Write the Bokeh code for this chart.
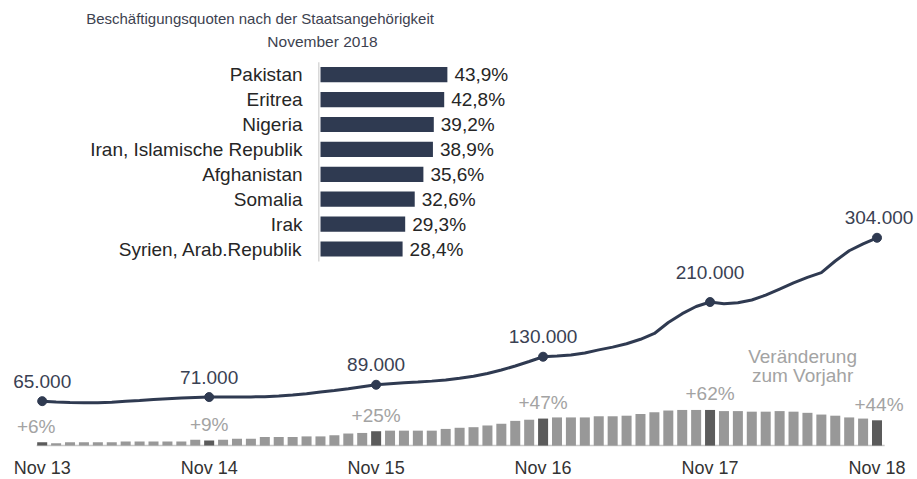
from bokeh.plotting import figure
from bokeh.models import Range1d, ColumnDataSource, Label
from bokeh.core.properties import value
from bokeh.embed import file_html
from bokeh.resources import INLINE

# ---------------- data ----------------
# monthly index: 0 = Nov 2013 ... 60 = Nov 2018
months = list(range(61))
employed = [65000, 63800, 63000, 62800, 62600, 63500, 64800, 66000, 67500, 68500, 69500, 70500, 71000,
            71000, 71000, 71200, 71600, 72500, 74000, 76000, 78500, 80500, 83000, 86000, 89000,
            90500, 91800, 93000, 94300, 96000, 98500, 101500, 105500, 110500, 116500, 123000, 130000,
            131000, 132500, 135500, 140000, 144000, 149000, 155500, 164000, 180000, 193000, 203500, 210000,
            207500, 209000, 213000, 220000, 229000, 238000, 246000, 253000, 270000, 285000, 295000, 304000]
change_pct = [6, 4, 6, 6, 6, 6, 7, 7, 7, 7, 7, 10, 9,
              10, 12, 12, 15, 15, 15, 16, 16, 18, 21, 22, 25,
              26, 26, 26, 26, 29, 31, 32, 35, 38, 43, 45, 47,
              49, 49, 49, 51, 51, 52, 55, 58, 61, 62, 62, 62,
              60, 60, 59, 59, 60, 59, 57, 54, 52, 49, 47, 44]
tick_months = [0, 12, 24, 36, 48, 60]
tick_labels = ["Nov 13", "Nov 14", "Nov 15", "Nov 16", "Nov 17", "Nov 18"]

countries = ["Pakistan", "Eritrea", "Nigeria", "Iran, Islamische Republik",
             "Afghanistan", "Somalia", "Irak", "Syrien, Arab.Republik"]
rates = [43.9, 42.8, 39.2, 38.9, 35.6, 32.6, 29.3, 28.4]

title_text = "Beschäftigungsquoten nach der Staatsangehörigkeit"
subtitle_text = "November 2018"
note_lines = ["Veränderung", "zum Vorjahr"]

# ---------------- style ----------------
FONT = "Liberation Sans"
NAVY = "#2f3a51"
BAR_LIGHT = "#989898"
BAR_DARK = "#5b5b5b"
PCT_TEXT = "#a3a3a3"

p = figure(width=917, height=479, output_backend="svg", toolbar_location=None,
           x_axis_type=None, y_axis_type=None, min_border=0,
           x_range=Range1d(-2.997, 62.91), y_range=Range1d(-49583, 651017))
p.outline_line_color = None
p.xgrid.visible = False
p.ygrid.visible = False
p.background_fill_color = "white"

p.extra_y_ranges = {"pct": Range1d(-58.96, 774.1), "hy": Range1d(16.257, -2.980)}
p.extra_x_ranges = {"hx": Range1d(-110.73, 206.57)}

# --- monthly change bars ---
bar_src = ColumnDataSource(dict(
    x=months, top=change_pct,
    color=[BAR_DARK if m in tick_months else BAR_LIGHT for m in months]))
p.segment(x0=[months[0] - 0.4], x1=[months[-1] + 0.55], y0=[0], y1=[0],
          y_range_name="pct", line_color="#c8c8c8", line_width=1.5)
p.vbar(x="x", top="top", bottom=0, width=0.72, fill_color="color", line_color=None,
       y_range_name="pct", source=bar_src)

pct_src = ColumnDataSource(dict(
    x=tick_months, y=[change_pct[m] for m in tick_months],
    text=[f"+{change_pct[m]}%" for m in tick_months],
    xoff=[-6 if m == tick_months[0] else (2 if m == tick_months[-1] else 0) for m in tick_months]))
p.text(x="x", y="y", text="text", source=pct_src, y_range_name="pct",
       x_offset="xoff", y_offset=-16, text_align="center", text_baseline="middle",
       text_font=value(FONT), text_font_size=value("19px"), text_color=PCT_TEXT)

# --- employed line ---
p.line(months, employed, line_color=NAVY, line_width=3)
p.scatter([m for m in tick_months], [employed[m] for m in tick_months],
          size=9, fill_color=NAVY, line_color=NAVY)
lab_src = ColumnDataSource(dict(
    x=tick_months, y=[employed[m] for m in tick_months],
    text=[f"{employed[m]:,}".replace(",", ".") for m in tick_months],
    yoff=[-30 if m == 48 else -20 for m in tick_months],
    xoff=[2 if m == tick_months[-1] else 0 for m in tick_months]))
p.text(x="x", y="y", text="text", source=lab_src, x_offset="xoff", y_offset="yoff",
       text_align="center", text_baseline="middle",
       text_font=value(FONT), text_font_size=value("19px"), text_color="#3a4153")

# --- x tick labels ---
p.text(x=tick_months, y=[-38.3] * len(tick_months), text=tick_labels, y_range_name="pct",
       text_align="center", text_baseline="middle",
       text_font=value(FONT), text_font_size=value("18px"), text_color="#333333")

# --- note ---
for i, line in enumerate(note_lines):
    p.add_layout(Label(x=54.65, y=155.3 - 34.0 * i, text=line, y_range_name="pct",
                       text_align="center", text_baseline="middle",
                       text_font=FONT, text_font_size="19px", text_color=PCT_TEXT))

# --- horizontal bar chart (employment rates) ---
idx = list(range(len(countries)))
p.segment(x0=[-0.6], x1=[-0.6], y0=[idx[0] - 0.5], y1=[idx[-1] + 0.5],
          x_range_name="hx", y_range_name="hy", line_color="#d9d9d9", line_width=1.5)
p.hbar(y=idx, left=0, right=rates, height=0.61, x_range_name="hx", y_range_name="hy",
       fill_color=NAVY, line_color=None)
p.text(x=[0] * len(countries), y=idx, text=countries, x_range_name="hx", y_range_name="hy",
       x_offset=-18, text_align="right", text_baseline="middle",
       text_font=value(FONT), text_font_size=value("19px"), text_color="#262626")
p.text(x=rates, y=idx, text=[f"{r:.1f}".replace(".", ",") + "%" for r in rates],
       x_range_name="hx", y_range_name="hy", x_offset=7, text_align="left",
       text_baseline="middle", text_font=value(FONT), text_font_size=value("19px"),
       text_color="#262626")

p.add_layout(Label(x=-20.93, y=-2.267, text=title_text, x_range_name="hx", y_range_name="hy",
                   text_align="center", text_baseline="middle",
                   text_font=FONT, text_font_size="15px", text_color="#3d4250"))
p.add_layout(Label(x=0.69, y=-1.336, text=subtitle_text, x_range_name="hx", y_range_name="hy",
                   text_align="center", text_baseline="middle",
                   text_font=FONT, text_font_size="15.5px", text_color="#3d4250"))

open("out.html", "w").write(file_html(p, INLINE))
